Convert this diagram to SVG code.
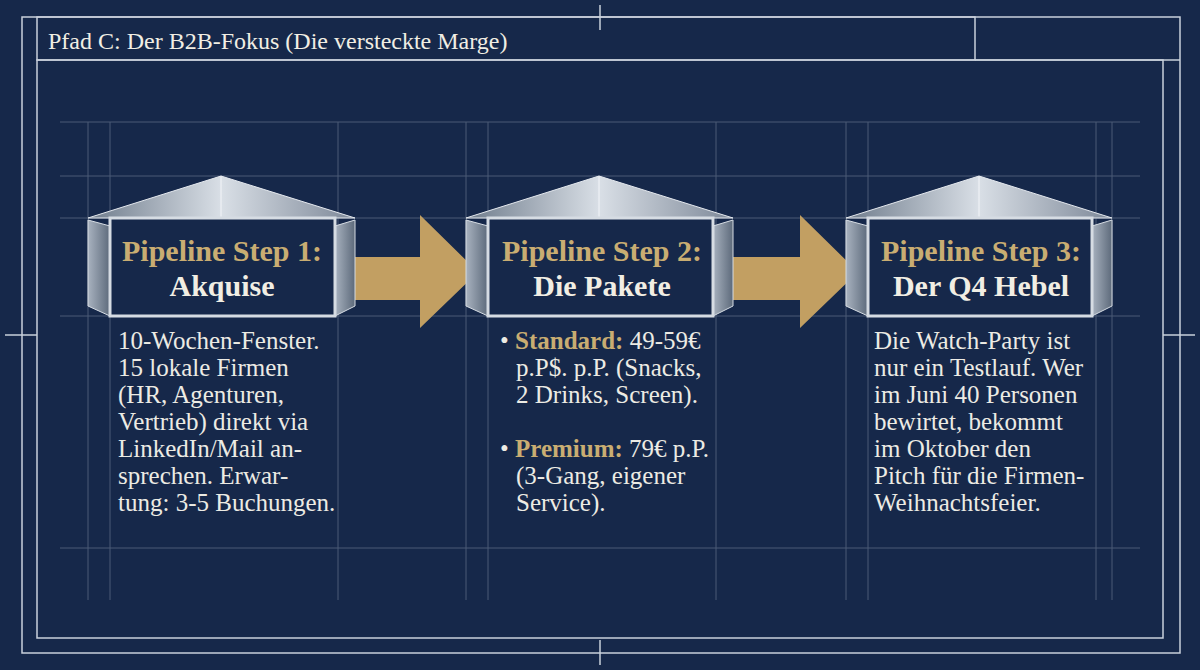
<svg xmlns="http://www.w3.org/2000/svg" width="1200" height="670" viewBox="0 0 1200 670">
<defs>
<linearGradient id="roof" x1="0" y1="0" x2="1" y2="0">
<stop offset="0" stop-color="#6f7c8c"/><stop offset="0.5" stop-color="#d9dfe6"/><stop offset="1" stop-color="#7d8898"/>
</linearGradient>
<linearGradient id="side" x1="0" y1="0" x2="1" y2="0">
<stop offset="0" stop-color="#a8b2bf"/><stop offset="1" stop-color="#5d6a7b"/>
</linearGradient>
<style>
.g{stroke:#8a97ab;stroke-width:1;opacity:.45;fill:none}
.f{stroke:#c9d0db;stroke-width:1.5;fill:none}
.h{font-family:"Liberation Serif",serif;font-weight:bold;font-size:30px;text-anchor:middle}
.t{font-family:"Liberation Serif",serif;font-size:25px;fill:#ecebe4}
.gold{fill:#c9ad72}
.cr{fill:#f1eee4}
.b{font-weight:bold;fill:#c9ad72}
</style>
</defs>
<rect width="1200" height="670" fill="#16284a"/>
<g class="g">
<line x1="60" y1="122" x2="1140" y2="122"/><line x1="60" y1="176" x2="1140" y2="176"/>
<line x1="60" y1="218" x2="1140" y2="218"/><line x1="60" y1="316" x2="1140" y2="316"/>
<line x1="60" y1="548" x2="1140" y2="548"/>
<line x1="88" y1="122" x2="88" y2="600"/><line x1="110" y1="122" x2="110" y2="600"/>
<line x1="338" y1="122" x2="338" y2="600"/><line x1="466" y1="122" x2="466" y2="600"/>
<line x1="488" y1="122" x2="488" y2="600"/><line x1="716" y1="122" x2="716" y2="600"/>
<line x1="846" y1="122" x2="846" y2="600"/><line x1="868" y1="122" x2="868" y2="600"/>
<line x1="1096" y1="122" x2="1096" y2="600"/><line x1="1112" y1="122" x2="1112" y2="600"/>
</g>
<g class="f">
<rect x="22" y="17" width="1158" height="636"/>
<rect x="37" y="60" width="1126" height="578"/>
<rect x="37" y="17" width="938" height="43"/>
<line x1="975" y1="60" x2="1180" y2="60"/>
<line x1="600" y1="5" x2="600" y2="30"/><line x1="600" y1="640" x2="600" y2="665"/>
<line x1="5" y1="335" x2="37" y2="335"/><line x1="1163" y1="335" x2="1195" y2="335"/>
</g>
<text x="48" y="49" style="font-family:'Liberation Serif',serif;font-size:24px" fill="#f1eee4">Pfad C: Der B2B-Fokus (Die versteckte Marge)</text>
<g id="connectors" fill="#c29f62">
<polygon points="333,257 420,257 420,215 478,272 420,328 420,300 333,300"/>
<polygon points="713,257 800,257 800,215 858,272 800,328 800,300 713,300"/>
</g>
<g id="node1">
<polygon points="88,218 221,176 355,218" fill="url(#roof)" stroke="#e4e8ee"/>
<line x1="221" y1="176" x2="221" y2="218" stroke="#f3f5f8"/>
<polygon points="88,220 110,226 110,316 88,306" fill="url(#side)" stroke="#d6dce3"/>
<polygon points="355,220 335,226 335,316 355,306" fill="url(#side)" stroke="#d6dce3"/>
<rect x="110" y="218" width="225" height="98" fill="#16284a" stroke="#d6dce3" stroke-width="3"/>
<text class="h gold" x="222" y="261">Pipeline Step 1:</text>
<text class="h cr" x="222" y="296">Akquise</text>
<text class="t"><tspan x="118" y="349">10-Wochen-Fenster.</tspan><tspan x="118" y="376">15 lokale Firmen</tspan><tspan x="118" y="403">(HR, Agenturen,</tspan><tspan x="118" y="430">Vertrieb) direkt via</tspan><tspan x="118" y="457">LinkedIn/Mail an-</tspan><tspan x="118" y="484">sprechen. Erwar-</tspan><tspan x="118" y="511">tung: 3-5 Buchungen.</tspan></text>
</g>
<g id="node2">
<polygon points="466,218 599,176 733,218" fill="url(#roof)" stroke="#e4e8ee"/>
<line x1="599" y1="176" x2="599" y2="218" stroke="#f3f5f8"/>
<polygon points="466,220 488,226 488,316 466,306" fill="url(#side)" stroke="#d6dce3"/>
<polygon points="733,220 713,226 713,316 733,306" fill="url(#side)" stroke="#d6dce3"/>
<rect x="488" y="218" width="225" height="98" fill="#16284a" stroke="#d6dce3" stroke-width="3"/>
<text class="h gold" x="602" y="261">Pipeline Step 2:</text>
<text class="h cr" x="602" y="296">Die Pakete</text>
<text class="t"><tspan x="500" y="349">• </tspan><tspan class="b">Standard:</tspan><tspan> 49-59€</tspan><tspan x="516" y="376">p.P$. p.P. (Snacks,</tspan><tspan x="516" y="403">2 Drinks, Screen).</tspan><tspan x="500" y="457">• </tspan><tspan class="b">Premium:</tspan><tspan> 79€ p.P.</tspan><tspan x="516" y="484">(3-Gang, eigener</tspan><tspan x="516" y="511">Service).</tspan></text>
</g>
<g id="node3">
<polygon points="846,218 979,176 1112,218" fill="url(#roof)" stroke="#e4e8ee"/>
<line x1="979" y1="176" x2="979" y2="218" stroke="#f3f5f8"/>
<polygon points="846,220 868,226 868,316 846,306" fill="url(#side)" stroke="#d6dce3"/>
<polygon points="1112,220 1092,226 1092,316 1112,306" fill="url(#side)" stroke="#d6dce3"/>
<rect x="868" y="218" width="224" height="98" fill="#16284a" stroke="#d6dce3" stroke-width="3"/>
<text class="h gold" x="981" y="261">Pipeline Step 3:</text>
<text class="h cr" x="981" y="296">Der Q4 Hebel</text>
<text class="t"><tspan x="874" y="349">Die Watch-Party ist</tspan><tspan x="874" y="376">nur ein Testlauf. Wer</tspan><tspan x="874" y="403">im Juni 40 Personen</tspan><tspan x="874" y="430">bewirtet, bekommt</tspan><tspan x="874" y="457">im Oktober den</tspan><tspan x="874" y="484">Pitch für die Firmen-</tspan><tspan x="874" y="511">Weihnachtsfeier.</tspan></text>
</g>
</svg>
